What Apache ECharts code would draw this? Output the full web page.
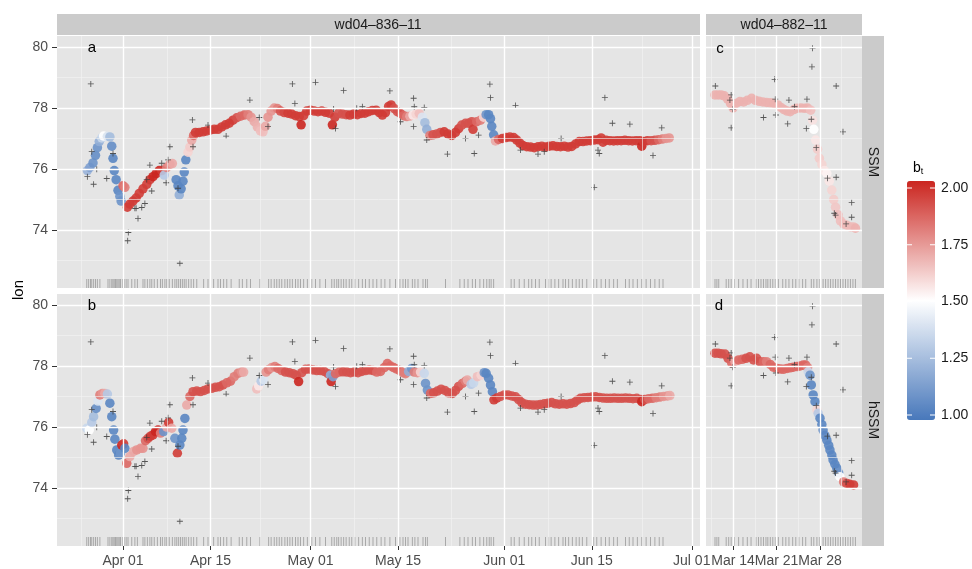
<!DOCTYPE html>
<html>
<head>
<meta charset="utf-8">
<script src="https://cdn.jsdelivr.net/npm/echarts@6/dist/echarts.min.js"></script>
<style>
  html, body { margin: 0; padding: 0; background: #fff; }
  #chart { width: 972px; height: 569px; }
</style>
</head>
<body>
<div id="chart"></div>
<script>
  // days are counted from Mar 01 (Mar 01 = 0, Apr 01 = 31 ...)
  // track rows: [day, lon, b_t]
  const trackSSM_836 = [
    [25.3,75.95,1.22],[25.7,76.05,1.15],[26.2,76.2,1.1],[26.6,76.45,1.08],[26.9,76.7,1.1],[27.2,76.9,1.2],
    [27.6,77.02,1.35],[27.9,77.08,1.5],[28.5,77.07,1.4],[28.9,77.05,1.25],[29.2,76.75,1.08],[29.4,76.35,1.05],
    [29.6,75.95,1.05],[29.9,75.65,1.05],[30.2,75.3,1.05],[30.5,75.1,1.1],[30.7,74.95,1.1],[31.0,75.45,1.85],
    [31.3,75.4,1.8],[31.7,74.75,1.95],[32.1,74.85,1.95],[32.6,74.95,1.95],[33.1,75.05,1.95],[33.6,75.2,1.95],
    [34.2,75.35,1.95],[34.8,75.5,1.95],[35.3,75.65,1.95],[35.8,75.75,2.0],[36.3,75.85,2.0],[36.8,75.95,2.0],
    [37.2,75.95,1.95],[37.6,75.8,1.3],[38.0,76.05,1.8],[38.5,76.15,1.75],[38.9,76.18,1.7],[39.5,75.65,1.05],
    [39.8,75.45,1.05],[40.0,75.15,1.2],[40.3,75.35,1.05],[40.6,75.6,1.05],[40.8,75.9,1.05],[41.05,76.3,1.05],
    [41.4,76.55,1.6],[41.7,76.72,1.62],[42.0,76.95,1.7],[42.3,77.1,1.85],[42.6,77.2,1.95],[43.2,77.2,1.95],
    [43.8,77.22,1.95],[44.4,77.25,1.95],[45.0,77.28,1.95],[45.6,77.3,1.95],[46.2,77.3,1.95],[46.8,77.38,1.95],
    [47.4,77.45,1.95],[48.0,77.5,1.95],[48.6,77.6,1.95],[49.2,77.68,1.9],[49.8,77.73,1.85],[50.4,77.77,1.85],
    [51.0,77.78,1.8],[51.5,77.7,1.75],[52.0,77.55,1.7],[52.5,77.38,1.68],[53.0,77.25,1.65],[53.4,77.22,1.65],
    [53.8,77.4,1.7],[54.2,77.7,1.75],[54.7,77.9,1.75],[55.2,78.0,1.75],[55.7,77.98,1.8],[56.2,77.9,1.9],
    [56.8,77.85,1.92],[57.4,77.83,1.95],[58.0,77.8,1.95],[58.6,77.75,1.95],[59.2,77.72,1.95],[59.5,77.45,2.0],
    [59.9,77.75,1.95],[60.4,77.9,1.95],[61.0,77.93,1.95],[61.6,77.9,1.95],[62.2,77.88,1.95],[62.8,77.9,1.95],
    [63.4,77.86,1.95],[64.0,77.83,1.95],[64.5,77.45,2.0],[64.9,77.7,1.95],[65.5,77.83,1.9],[66.1,77.8,1.9],
    [66.7,77.78,1.9],[67.3,77.77,1.95],[67.9,77.8,1.95],[68.5,77.78,1.95],[69.1,77.82,1.95],[69.7,77.83,1.95],
    [70.3,77.88,1.95],[70.9,77.92,1.95],[71.5,77.93,1.95],[72.0,77.85,1.95],[72.5,77.77,1.95],[73.0,77.85,1.95],
    [73.5,78.05,1.95],[73.9,78.1,1.95],[74.4,77.98,1.9],[74.9,77.88,1.9],[75.4,77.82,1.9],[75.9,77.75,1.85],
    [76.4,77.72,1.8],[76.9,77.73,1.7],[77.4,77.77,1.55],[77.9,77.8,1.6],[78.4,77.82,1.65],[78.9,77.7,1.4],
    [79.3,77.52,1.25],[79.6,77.3,1.2],[80.1,77.1,1.8],[80.6,77.12,1.9],[81.2,77.15,1.9],[81.8,77.2,1.9],
    [82.4,77.22,1.95],[83.0,77.15,1.95],[83.6,77.1,1.95],[84.2,77.2,1.95],[84.7,77.32,1.95],[85.2,77.44,1.9],
    [85.8,77.5,1.9],[86.3,77.5,1.9],[86.8,77.55,1.9],[87.0,77.3,1.95],[87.6,77.55,1.85],[88.2,77.6,1.8],
    [88.7,77.7,1.6],[89.1,77.78,1.1],[89.5,77.78,1.05],[89.8,77.65,1.05],[90.0,77.4,1.05],[90.3,77.12,1.05],
    [90.6,76.92,1.7],[91.1,76.97,1.85],[91.7,77.0,1.95],[92.3,77.03,1.95],[92.9,77.05,1.95],[93.5,77.03,1.95],
    [94.0,76.95,1.95],[94.5,76.85,1.95],[95.0,76.77,1.95],[95.6,76.73,1.95],[96.2,76.72,1.95],[96.8,76.7,1.95],
    [97.4,76.73,1.95],[98.0,76.75,1.95],[98.6,76.72,1.95],[99.2,76.75,1.95],[99.8,76.76,1.95],[100.4,76.74,1.95],
    [101.0,76.73,1.95],[101.6,76.75,1.95],[102.2,76.72,1.95],[102.8,76.74,1.95],[103.4,76.82,1.95],[104.0,76.9,1.95],
    [104.6,76.9,1.95],[105.2,76.92,1.95],[105.8,76.93,1.95],[106.4,76.95,1.95],[107.0,76.96,1.95],[107.5,77.02,1.95],
    [107.8,76.88,1.95],[108.3,76.94,1.95],[108.9,76.93,1.95],[109.5,76.92,1.95],[110.1,76.93,1.95],[110.7,76.93,1.95],
    [111.3,76.94,1.95],[111.9,76.93,1.95],[112.5,76.92,1.95],[113.1,76.93,1.95],[113.7,76.93,1.95],[114.0,76.75,2.0],
    [114.3,76.9,1.95],[114.9,76.93,1.95],[115.5,76.93,1.9],[116.1,76.94,1.9],[116.7,76.96,1.85],[117.3,76.98,1.8],
    [117.9,77.0,1.75],[118.4,77.02,1.75]
  ];

  const trackHSSM_836 = [
    [25.2,75.96,1.35],[25.6,75.9,1.5],[26.0,76.15,1.3],[26.3,76.34,1.25],[26.7,76.61,1.08],[27.0,76.85,1.4],
    [27.3,77.05,1.8],[27.7,77.1,1.75],[28.1,77.1,1.7],[28.5,77.08,1.3],[28.9,76.78,1.05],[29.2,76.34,1.05],
    [29.5,75.9,1.05],[29.7,75.6,1.05],[30.0,75.25,1.05],[30.3,75.08,1.05],[30.6,75.15,1.1],[30.8,75.41,2.0],
    [31.1,75.45,1.95],[31.3,75.3,1.05],[31.6,74.81,1.85],[32.1,75.03,1.7],[32.7,75.2,1.7],[33.2,75.25,1.75],
    [33.8,75.3,1.75],[34.2,75.3,1.75],[34.6,75.55,1.85],[35.0,75.63,1.9],[35.4,75.7,1.95],[35.8,75.74,1.95],
    [36.2,75.85,2.0],[36.6,75.9,2.0],[37.0,75.8,1.8],[37.5,75.85,1.1],[38.0,76.0,1.7],[38.3,76.15,1.95],
    [38.8,75.96,1.7],[39.3,75.63,1.1],[39.7,75.14,1.95],[40.1,75.41,1.05],[40.4,75.63,1.05],[40.6,75.9,1.05],
    [40.9,76.28,1.05],[41.2,76.72,1.7],[41.7,77.0,1.85],[42.2,77.16,1.9],[42.8,77.18,1.9],[43.4,77.16,1.9],
    [44.0,77.2,1.9],[44.6,77.25,1.9],[45.2,77.27,1.9],[45.8,77.3,1.9],[46.4,77.32,1.9],[47.0,77.38,1.9],
    [47.6,77.45,1.85],[48.2,77.5,1.85],[48.8,77.65,1.8],[49.4,77.76,1.8],[50.0,77.8,1.75],[50.3,77.8,1.7],
    [52.4,77.25,1.65],[52.7,77.35,1.55],[53.1,77.5,1.3],[53.5,77.55,1.4],[53.9,77.8,1.75],[54.3,77.88,1.8],
    [54.8,77.95,1.75],[55.3,77.98,1.8],[55.8,77.92,1.85],[56.4,77.85,1.85],[57.0,77.8,1.9],[57.6,77.78,1.9],
    [58.2,77.75,1.9],[58.7,77.7,1.9],[59.1,77.49,2.0],[59.6,77.78,1.9],[60.2,77.89,1.9],[60.8,77.9,1.9],
    [61.4,77.87,1.9],[62.0,77.85,1.9],[62.6,77.85,1.9],[63.2,77.82,1.9],[63.8,77.75,1.9],[64.2,77.7,1.2],
    [64.3,77.49,2.0],[64.6,77.65,1.15],[65.0,77.75,1.85],[65.6,77.8,1.85],[66.2,77.81,1.9],[66.8,77.8,1.9],
    [67.4,77.78,1.9],[68.0,77.8,1.9],[68.6,77.78,1.9],[69.2,77.82,1.9],[69.8,77.85,1.9],[70.4,77.87,1.9],
    [71.0,77.85,1.9],[71.6,77.8,1.85],[72.2,77.82,1.85],[72.8,77.95,1.85],[73.3,78.08,1.85],[73.8,78.0,1.85],
    [74.3,77.95,1.85],[74.8,77.9,1.85],[75.3,77.85,1.85],[75.8,77.78,1.8],[76.2,77.75,1.8],[76.7,77.82,1.2],
    [77.2,77.92,1.1],[77.6,77.8,1.8],[78.1,77.78,1.75],[78.6,77.8,1.6],[79.2,77.76,1.35],[79.4,77.43,1.1],
    [79.7,77.21,1.1],[80.2,77.1,1.85],[80.7,77.12,1.9],[81.3,77.18,1.9],[81.9,77.24,1.9],[82.5,77.2,1.9],
    [83.1,77.12,1.9],[83.7,77.1,1.9],[84.2,77.2,1.9],[84.7,77.33,1.9],[85.3,77.43,1.85],[85.8,77.5,1.8],
    [86.1,77.54,1.7],[86.7,77.4,1.3],[87.1,77.45,1.35],[87.7,77.65,1.65],[88.3,77.7,1.6],[88.8,77.78,1.1],
    [89.1,77.76,1.05],[89.5,77.6,1.05],[89.8,77.38,1.05],[90.1,77.16,1.05],[90.35,76.89,1.95],[90.8,76.95,1.95],
    [91.4,77.0,1.9],[92.0,77.05,1.9],[92.6,77.05,1.9],[93.2,77.02,1.9],[93.8,76.99,1.9],[94.3,76.9,1.9],
    [94.8,76.8,1.9],[95.4,76.75,1.9],[96.0,76.73,1.9],[96.6,76.72,1.9],[97.2,76.72,1.9],[97.8,76.74,1.9],
    [98.4,76.76,1.9],[99.0,76.78,1.9],[99.6,76.8,1.9],[100.2,76.76,1.9],[100.8,76.75,1.9],[101.4,76.76,1.9],
    [102.0,76.75,1.9],[102.6,76.77,1.9],[103.2,76.8,1.9],[103.7,76.88,1.9],[104.2,76.94,1.9],[104.8,76.96,1.9],
    [105.4,76.97,1.9],[106.0,76.98,1.9],[106.6,76.99,1.9],[107.2,76.97,1.9],[107.8,76.95,1.9],[108.4,76.94,1.9],
    [109.0,76.94,1.9],[109.6,76.95,1.9],[110.2,76.94,1.9],[110.8,76.94,1.9],[111.4,76.95,1.9],[112.0,76.94,1.9],
    [112.6,76.93,1.9],[113.2,76.94,1.9],[113.8,76.9,1.9],[114.0,76.83,2.0],[114.5,76.9,1.9],[115.1,76.93,1.85],
    [115.7,76.94,1.85],[116.3,76.96,1.8],[116.9,76.98,1.8],[117.5,77.0,1.75],[118.1,77.02,1.75],[118.5,77.03,1.7]
  ];

  const trackSSM_882 = [
    [10.1,78.43,1.68],[10.6,78.43,1.68],[11.1,78.43,1.68],[11.6,78.4,1.68],[12.1,78.3,1.68],[12.6,78.15,1.68],
    [13.0,78.0,1.68],[13.5,78.15,1.68],[14.1,78.21,1.68],[14.7,78.2,1.68],[15.3,78.25,1.68],[16.0,78.32,1.68],
    [16.6,78.25,1.68],[17.2,78.22,1.68],[17.8,78.2,1.68],[18.4,78.18,1.68],[19.0,78.17,1.68],[19.6,78.15,1.68],
    [20.2,78.1,1.68],[20.7,78.02,1.68],[21.2,77.95,1.68],[21.7,77.9,1.68],[22.2,77.88,1.68],[22.8,77.95,1.68],
    [23.3,77.99,1.68],[23.9,78.0,1.68],[24.5,77.99,1.68],[25.0,78.0,1.68],[25.5,77.93,1.65],[25.8,77.6,1.57],
    [26.0,77.3,1.5],[26.3,76.95,1.56],[26.6,76.65,1.62],[26.9,76.35,1.62],[27.3,76.15,1.6],[27.7,75.95,1.56],
    [28.1,75.85,1.53],[28.5,75.6,1.56],[28.9,75.31,1.6],[29.2,75.0,1.62],[29.5,74.75,1.63],[29.9,74.5,1.65],
    [30.3,74.3,1.65],[30.8,74.2,1.65],[31.3,74.16,1.66],[31.9,74.1,1.66],[32.4,74.1,1.66],[32.7,74.06,1.68]
  ];

  const trackHSSM_882 = [
    [10.1,78.42,1.9],[10.6,78.42,1.9],[11.1,78.4,1.9],[11.7,78.39,1.9],[12.2,78.25,1.9],[12.8,78.09,1.85],
    [13.3,78.15,1.7],[13.9,78.2,1.85],[14.5,78.22,1.85],[15.1,78.25,1.9],[15.7,78.3,1.9],[16.3,78.2,1.9],
    [16.8,78.25,1.9],[17.3,78.14,1.9],[17.9,78.14,1.85],[18.4,78.14,1.8],[19.0,78.05,1.85],[19.5,77.96,1.85],
    [20.1,77.92,1.85],[20.6,77.9,1.85],[21.1,77.89,1.85],[21.7,77.92,1.85],[22.2,77.94,1.85],[22.7,77.96,1.85],
    [23.3,77.98,1.85],[23.8,78.0,1.85],[24.3,78.03,1.85],[24.7,78.03,1.85],[25.0,77.95,1.8],[25.1,77.81,1.35],
    [25.4,77.7,1.1],[25.6,77.38,1.05],[25.9,77.05,1.05],[26.2,76.83,1.05],[26.5,76.56,1.6],[26.7,76.45,1.3],
    [27.0,76.29,1.05],[27.3,76.08,1.05],[27.5,75.9,1.05],[27.8,75.72,1.05],[28.1,75.57,1.05],[28.4,75.4,1.05],
    [28.6,75.25,1.05],[28.9,75.08,1.05],[29.1,74.92,1.05],[29.4,74.78,1.05],[29.7,74.65,1.05],[30.0,74.5,1.1],
    [30.2,74.37,1.5],[30.8,74.2,1.8],[31.3,74.15,1.9],[31.8,74.12,1.95],[32.4,74.1,1.95]
  ];

  // observed positions that stand off the fitted track: [day, lon]
  const obs_836 = [
    [25.85,78.79],[26.0,76.57],[25.3,75.75],[26.3,75.5],[26.8,75.99],[28.4,75.69],[29.4,76.51],[31.85,73.92],
    [31.75,73.65],[33.4,74.38],[32.9,74.71],[33.1,74.71],[34.0,74.74],[34.5,74.87],[34.8,75.66],[35.6,75.28],
    [35.3,76.13],[37.2,76.19],[37.9,75.55],[38.2,76.3],[38.5,76.73],[39.8,75.37],[40.1,72.91],[42.1,77.61],
    [42.2,76.73],[44.6,77.44],[47.5,77.08],[51.3,78.26],[52.8,77.69],[54.2,77.39],[58.1,78.79],[58.5,78.15],
    [61.8,78.84],[64.7,77.97],[65.0,77.33],[66.3,78.57],[68.4,77.99],[69.3,78.04],[73.7,78.56],[75.4,77.55],
    [77.5,78.32],[77.6,78.04],[77.5,77.39],[79.2,78.02],[79.6,76.95],[82.9,76.49],[85.8,77.0],[87.2,76.51],
    [87.9,77.11],[89.7,78.78],[89.8,78.34],[93.8,78.08],[94.6,76.62],[97.4,76.49],[98.4,76.57],[101.1,77.0],
    [106.4,75.4],[107.0,76.62],[107.2,76.51],[108.1,78.34],[109.3,77.5],[112.1,77.47],[115.8,76.44],[117.2,77.35]
  ];

  const obs_882 = [
    [10.15,78.72],[12.5,78.26],[12.7,78.43],[12.7,77.35],[12.95,77.96],[17.9,77.69],[19.7,78.94],[19.8,78.29],
    [19.9,77.77],[21.8,77.48],[22.0,78.26],[22.9,78.04],[24.9,78.29],[24.8,77.33],[25.6,77.63],[25.8,79.96],
    [25.7,79.35],[26.4,76.7],[28.2,75.7],[29.6,78.72],[30.7,77.22],[29.6,75.73],[29.3,74.55],[31.2,74.2],
    [32.1,74.9],[32.1,74.42],[29.5,74.49]
  ];

  // times of every observation (rug)
  const rugDays_836 = [
    25.2,25.5,25.8,26.0,26.3,26.6,26.9,27.3,28.6,28.9,29.2,29.4,29.6,29.8,30.0,30.2,30.4,30.6,30.9,31.2,31.5,31.8,
    32.4,32.9,33.3,34.2,34.5,34.9,35.3,35.6,36.0,36.5,37.0,37.3,37.7,38.0,38.4,38.9,39.3,39.6,39.9,40.2,40.5,40.8,
    41.1,41.5,41.9,42.3,42.8,43.9,44.6,45.0,45.5,46.2,46.6,47.1,47.6,48.3,49.6,50.1,50.8,51.4,52.9,54.3,54.7,55.2,
    55.6,56.0,56.4,56.9,57.3,57.7,58.1,58.6,59.0,59.4,59.9,60.5,61.2,61.8,62.5,63.4,64.4,64.8,65.2,65.5,65.9,66.3,
    66.7,67.2,67.6,68.1,68.7,69.3,69.8,70.4,71.0,71.6,72.3,72.9,73.7,74.6,75.3,75.8,76.2,76.6,77.3,77.7,78.2,79.0,
    79.4,79.7,82.6,84.9,85.6,86.2,86.9,87.4,88.1,88.7,89.2,89.6,89.9,90.3,93.1,93.6,94.4,95.2,95.9,96.4,97.0,97.6,
    98.6,99.1,99.5,100.1,100.7,101.4,101.8,102.3,102.9,103.5,104.0,104.5,105.2,106.3,106.8,107.5,108.2,108.8,109.5,
    110.1,111.4,112.0,112.6,113.3,114.0,114.7,115.4,116.1,116.8,117.4
  ];
  const rugDays_882 = [
    10.1,10.4,10.7,11.9,12.3,12.7,13.2,13.9,14.6,15.3,15.9,16.7,17.1,17.5,17.9,18.3,18.6,19.0,19.4,19.8,20.3,21.0,
    21.5,22.0,22.6,23.1,23.6,24.2,24.7,25.6,26.0,26.5,26.9,27.5,27.9,28.3,28.7,29.1,29.5,29.9,30.3,30.7,31.1,31.5,
    31.9,32.3,32.7
  ];

  const leftTickDays = [31, 45, 61, 75, 92, 106, 122];
  const leftTickLabels = ['Apr 01', 'Apr 15', 'May 01', 'May 15', 'Jun 01', 'Jun 15', 'Jul 01'];
  const leftMinorDays = [24.3, 38, 53, 68, 83.5, 99, 114];
  const rightTickDays = [13, 20, 27];
  const rightTickLabels = ['Mar 14', 'Mar 21', 'Mar 28'];
  const rightMinorDays = [9.5, 16.5, 23.5, 30.5];
  const lonMajor = [74, 76, 78, 80];
  const lonMinor = [73, 75, 77, 79];
  const btTicks = [2.00, 1.75, 1.50, 1.25, 1.00];

  const FONT = '"Liberation Sans", Arial, sans-serif';
  const LON_RANGE = [72.1, 80.36];
  const LEFT_RANGE = [20.44, 123.32];
  const RIGHT_RANGE = [8.65, 33.76];
  const RUG_LON = 72.25;

  const plusSymbol = 'path://M4.3,0H5.7V4.3H10V5.7H5.7V10H4.3V5.7H0V4.3H4.3Z';

  const panels = [
    {grid: {left: 57, top: 36, width: 643, height: 252}, range: LEFT_RANGE, ticks: leftTickDays, labels: leftTickLabels,
     minor: leftMinorDays, track: trackSSM_836, obs: obs_836, rug: rugDays_836, xLabels: false, yLabels: true},
    {grid: {left: 57, top: 294, width: 643, height: 252}, range: LEFT_RANGE, ticks: leftTickDays, labels: leftTickLabels,
     minor: leftMinorDays, track: trackHSSM_836, obs: obs_836, rug: rugDays_836, xLabels: true, yLabels: true},
    {grid: {left: 706, top: 36, width: 156, height: 252}, range: RIGHT_RANGE, ticks: rightTickDays, labels: rightTickLabels,
     minor: rightMinorDays, track: trackSSM_882, obs: obs_882, rug: rugDays_882, xLabels: false, yLabels: false},
    {grid: {left: 706, top: 294, width: 156, height: 252}, range: RIGHT_RANGE, ticks: rightTickDays, labels: rightTickLabels,
     minor: rightMinorDays, track: trackHSSM_882, obs: obs_882, rug: rugDays_882, xLabels: true, yLabels: false}
  ];

  const grids = [], xAxes = [], yAxes = [], series = [], trackIdx = [];

  panels.forEach((p, i) => {
    grids.push(Object.assign({show: true, backgroundColor: '#e5e5e5', borderWidth: 0}, p.grid));
    xAxes.push({
      type: 'value', gridIndex: i, min: p.range[0], max: p.range[1],
      axisLine: {show: false}, splitLine: {show: false},
      axisTick: {show: p.xLabels, length: 4, lineStyle: {color: '#333'}, customValues: p.ticks},
      axisLabel: {show: p.xLabels, customValues: p.ticks, margin: 8, fontSize: 14, color: '#4d4d4d', fontFamily: FONT,
        formatter: v => p.labels[p.ticks.indexOf(v)] || ''}
    });
    yAxes.push({
      type: 'value', gridIndex: i, min: LON_RANGE[0], max: LON_RANGE[1],
      axisLine: {show: false}, splitLine: {show: false},
      axisTick: {show: p.yLabels, length: 5, lineStyle: {color: '#333'}, customValues: lonMajor},
      axisLabel: {show: p.yLabels, customValues: lonMajor, margin: 9, fontSize: 14, color: '#4d4d4d', fontFamily: FONT}
    });

    const gridLines = []
      .concat(p.minor.map(d => ({xAxis: d, lineStyle: {color: '#f3f3f3', width: 0.6, type: 'solid'}})))
      .concat(lonMinor.map(v => ({yAxis: v, lineStyle: {color: '#f3f3f3', width: 0.6, type: 'solid'}})))
      .concat(p.ticks.map(d => ({xAxis: d, lineStyle: {color: '#ffffff', width: 1.4, type: 'solid'}})))
      .concat(lonMajor.map(v => ({yAxis: v, lineStyle: {color: '#ffffff', width: 1.4, type: 'solid'}})));

    // rug of observation times, carrying the panel grid lines
    series.push({
      type: 'scatter', xAxisIndex: i, yAxisIndex: i, z: 1, silent: true, animation: false,
      symbol: 'rect', symbolSize: [1, 9],
      itemStyle: {color: 'rgba(60,60,60,0.45)'},
      data: p.rug.map(d => [d, RUG_LON]),
      markLine: {silent: true, animation: false, symbol: ['none', 'none'], label: {show: false}, data: gridLines}
    });
    // fitted track coloured by b_t
    trackIdx.push(series.length);
    series.push({
      type: 'scatter', xAxisIndex: i, yAxisIndex: i, z: 3, animation: false,
      symbolSize: 9.5, itemStyle: {opacity: 0.9},
      data: p.track
    });
    // observations
    series.push({
      type: 'scatter', xAxisIndex: i, yAxisIndex: i, z: 4, animation: false,
      symbol: plusSymbol, symbolSize: 6,
      itemStyle: {color: '#3c3c3c', opacity: 0.85},
      data: p.obs
    });
  });

  const letter = (x, y, t) => ({type: 'text', x: x, y: y, z: 100,
    style: {text: t, font: '15px ' + FONT, fill: '#000', align: 'center', verticalAlign: 'middle'}});

  const graphic = [
    {type: 'rect', shape: {x: 57, y: 14, width: 643, height: 21}, style: {fill: '#cbcbcb'}},
    {type: 'rect', shape: {x: 706, y: 14, width: 156, height: 21}, style: {fill: '#cbcbcb'}},
    {type: 'rect', shape: {x: 862, y: 36, width: 22, height: 252}, style: {fill: '#cbcbcb'}},
    {type: 'rect', shape: {x: 862, y: 294, width: 22, height: 252}, style: {fill: '#cbcbcb'}},
    {type: 'text', x: 378, y: 25, style: {text: 'wd04–836–11', font: '14px ' + FONT, fill: '#1a1a1a', align: 'center', verticalAlign: 'middle'}},
    {type: 'text', x: 784, y: 25, style: {text: 'wd04–882–11', font: '14px ' + FONT, fill: '#1a1a1a', align: 'center', verticalAlign: 'middle'}},
    {type: 'text', x: 873, y: 162, rotation: -Math.PI / 2, style: {text: 'SSM', font: '14px ' + FONT, fill: '#1a1a1a', align: 'center', verticalAlign: 'middle'}},
    {type: 'text', x: 873, y: 420, rotation: -Math.PI / 2, style: {text: 'hSSM', font: '14px ' + FONT, fill: '#1a1a1a', align: 'center', verticalAlign: 'middle'}},
    {type: 'text', x: 19, y: 290, rotation: Math.PI / 2, style: {text: 'lon', font: '15px ' + FONT, fill: '#000', align: 'center', verticalAlign: 'middle'}},
    letter(92, 48, 'a'), letter(92, 306, 'b'), letter(720, 49, 'c'), letter(719, 306, 'd'),
    {type: 'text', x: 913, y: 168, style: {
      text: '{b|b}{t|t}', verticalAlign: 'middle',
      rich: {b: {font: '14px ' + FONT, fill: '#000'}, t: {font: '9px ' + FONT, fill: '#000', padding: [8, 0, 0, 0]}}}}
  ];
  btTicks.forEach(v => {
    const y = 415 - (v - 1) * 227;
    graphic.push({type: 'text', x: 941, y: y, style: {text: v.toFixed(2), font: '14px ' + FONT, fill: '#1a1a1a', verticalAlign: 'middle'}});
    graphic.push({type: 'line', shape: {x1: 907, y1: y, x2: 912, y2: y}, style: {stroke: '#fff', lineWidth: 1}, z: 100});
    graphic.push({type: 'line', shape: {x1: 930, y1: y, x2: 935, y2: y}, style: {stroke: '#fff', lineWidth: 1}, z: 100});
  });

  const chart = echarts.init(document.getElementById('chart'), null, {renderer: 'canvas'});
  chart.setOption({
    backgroundColor: '#ffffff',
    animation: false,
    textStyle: {fontFamily: FONT},
    grid: grids,
    xAxis: xAxes,
    yAxis: yAxes,
    visualMap: {
      type: 'continuous', min: 1, max: 2, dimension: 2, seriesIndex: trackIdx,
      calculable: false, hoverLink: false, padding: 0,
      left: 907, top: 181, itemWidth: 28, itemHeight: 239,
      inRange: {color: ['#4878bb', '#ffffff', '#cb2620']},
      textStyle: {color: '#1a1a1a'}
    },
    graphic: graphic,
    series: series
  });
</script>
</body>
</html>
